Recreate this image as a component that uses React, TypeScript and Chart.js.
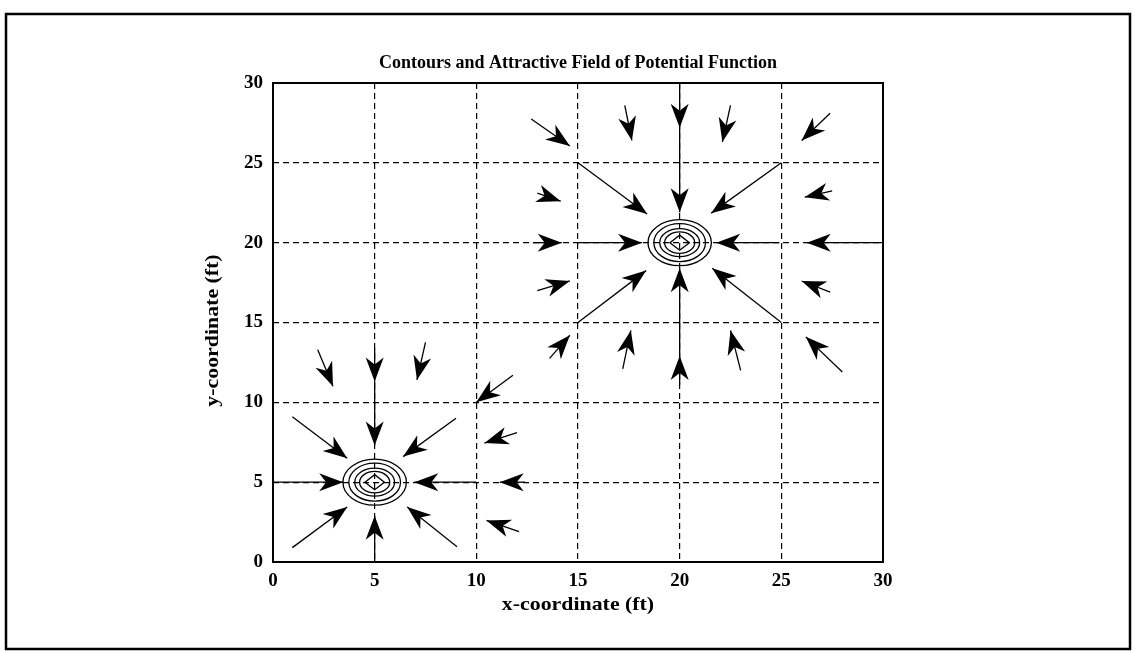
import React, { useEffect, useRef } from "react";
import { Chart, registerables } from "chart.js";

Chart.register(...registerables);

// ---- data ----
const tickValues = [0, 5, 10, 15, 20, 25, 30];
const chartTitle = "Contours and Attractive Field of Potential Function";
const xTitle = "x-coordinate (ft)";
const yTitle = "y-coordinate (ft)";

// goal points (contour centres)
const goalX = [5, 20];
const goalY = [5, 20];
// contour ring half-axes (data units)
const contourRx = [1.56, 1.27, 0.98, 0.74];
const contourRy = [1.44, 1.19, 0.875, 0.67];
const diamondRx = 0.48;
const diamondRy = 0.47;

// quiver arrows: tail -> tip (data units)
const arrowTailX = [
  12.7, 17.3, 20, 22.5, 27.4, 15, 20, 25, 13.0, 27.5, 12.8, 15, 30, 24.9, 13.0, 15, 20, 20, 25, 27.4, 13.6, 17.2, 23.0, 28.0, 11.8,
  2.2, 5, 5, 7.5, 0.95, 9.0, 12.0, 0, 10, 12.4, 0.95, 5, 9.05, 12.1,
];
const arrowTailY = [
  27.75, 28.6, 30, 28.6, 28.1, 25, 27.2, 25, 23.1, 23.25, 20, 20, 20, 20, 17.0, 15, 12.9, 11.1, 15, 16.9, 12.75, 12.1, 12.0, 11.9, 11.7,
  13.3, 13.4, 11.3, 13.75, 9.1, 9.0, 8.1, 5, 5, 5, 0.9, 0, 0.95, 1.9,
];
const arrowTipX = [
  14.6, 17.65, 20, 22.1, 26.0, 18.4, 20, 21.55, 14.15, 26.15, 14.2, 18.15, 26.25, 21.8, 14.6, 18.35, 20, 20, 21.6, 26.0, 14.6, 17.6, 22.5, 26.2, 10.0,
  2.95, 5, 5, 7.08, 3.65, 6.4, 10.4, 3.45, 6.95, 11.15, 3.65, 5, 6.6, 10.5,
];
const arrowTipY = [
  26.06, 26.4, 27.2, 26.3, 26.4, 21.8, 21.9, 21.85, 22.6, 22.85, 20, 20, 20, 20, 17.6, 18.25, 18.4, 12.9, 18.4, 17.6, 14.2, 14.5, 14.5, 14.1, 10.0,
  11.0, 11.3, 7.3, 11.4, 6.5, 6.6, 7.45, 5, 5, 5, 3.45, 2.9, 3.45, 2.6,
];

const SERIF = "'Liberation Serif', 'Times New Roman', serif";

const decorPlugin = {
  id: "decor",
  beforeDraw(chart: any) {
    const ctx = chart.ctx;
    ctx.save();
    ctx.fillStyle = "#fff";
    ctx.fillRect(0, 0, chart.width, chart.height);
    ctx.restore();
  },
  afterDatasetsDraw(chart: any) {
    const ctx = chart.ctx;
    const xs = chart.scales.x;
    const ys = chart.scales.y;
    const area = chart.chartArea;
    ctx.save();
    // arrow heads
    ctx.fillStyle = "#000";
    for (let i = 0; i < arrowTipX.length; i++) {
      const tx = xs.getPixelForValue(arrowTipX[i]);
      const ty = ys.getPixelForValue(arrowTipY[i]);
      const sx = xs.getPixelForValue(arrowTailX[i]);
      const sy = ys.getPixelForValue(arrowTailY[i]);
      const a = Math.atan2(ty - sy, tx - sx);
      const L = 24;
      const W = 9;
      const N = 17;
      const cos = Math.cos(a);
      const sin = Math.sin(a);
      const bx = tx - L * cos;
      const by = ty - L * sin;
      ctx.beginPath();
      ctx.moveTo(tx, ty);
      ctx.lineTo(bx - W * sin, by + W * cos);
      ctx.lineTo(tx - N * cos, ty - N * sin);
      ctx.lineTo(bx + W * sin, by - W * cos);
      ctx.closePath();
      ctx.fill();
    }
    // contours
    ctx.strokeStyle = "#000";
    ctx.lineWidth = 1.3;
    for (let g = 0; g < goalX.length; g++) {
      const cx = xs.getPixelForValue(goalX[g]);
      const cy = ys.getPixelForValue(goalY[g]);
      for (let r = 0; r < contourRx.length; r++) {
        const rx = Math.abs(xs.getPixelForValue(goalX[g] + contourRx[r]) - cx);
        const ry = Math.abs(ys.getPixelForValue(goalY[g] + contourRy[r]) - cy);
        ctx.beginPath();
        ctx.ellipse(cx, cy, rx, ry, 0, 0, Math.PI * 2);
        ctx.stroke();
      }
      const dx = Math.abs(xs.getPixelForValue(goalX[g] + diamondRx) - cx);
      const dy = Math.abs(ys.getPixelForValue(goalY[g] + diamondRy) - cy);
      ctx.beginPath();
      ctx.moveTo(cx - dx, cy);
      ctx.lineTo(cx, cy - dy);
      ctx.lineTo(cx + dx, cy);
      ctx.lineTo(cx, cy + dy);
      ctx.closePath();
      ctx.stroke();
    }
    // plot frame
    ctx.lineWidth = 2;
    ctx.strokeRect(area.left, area.top, area.right - area.left, area.bottom - area.top);
    ctx.restore();
  },
  afterDraw(chart: any) {
    const ctx = chart.ctx;
    const area = chart.chartArea;
    const cx = (area.left + area.right) / 2;
    ctx.save();
    // outer frame
    ctx.strokeStyle = "#000";
    ctx.lineWidth = 2.5;
    ctx.strokeRect(6, 14, 1124, 635);
    ctx.fillStyle = "#000";
    ctx.textAlign = "center";
    ctx.textBaseline = "alphabetic";
    ctx.font = `bold 18px ${SERIF}`;
    ctx.fillText(chartTitle, cx, 68);
    ctx.font = `bold 19px ${SERIF}`;
    ctx.save();
    ctx.translate(cx, 610);
    ctx.scale(1.15, 1);
    ctx.fillText(xTitle, 0, 0);
    ctx.restore();
    ctx.translate(218, (area.top + area.bottom) / 2 + 8);
    ctx.rotate(-Math.PI / 2);
    ctx.scale(1.15, 1);
    ctx.fillText(yTitle, 0, 0);
    ctx.restore();
  },
};

export default function App() {
  const ref = useRef<HTMLCanvasElement | null>(null);
  useEffect(() => {
    if (!ref.current) return;
    const datasets = arrowTailX.map((_, i) => ({
      data: [
        { x: arrowTailX[i], y: arrowTailY[i] },
        { x: arrowTipX[i], y: arrowTipY[i] },
      ],
      showLine: true,
      borderColor: "#000",
      borderWidth: 1.3,
      pointRadius: 0,
      pointHoverRadius: 0,
      fill: false,
    }));
    const tickFont = { family: SERIF, weight: "bold" as const, size: 19 };
    const chart = new Chart(ref.current, {
      type: "scatter",
      data: { datasets },
      options: {
        animation: false,
        responsive: false,
        maintainAspectRatio: false,
        events: [],
        layout: { padding: { left: 0, top: 83, right: 252, bottom: 0 } },
        plugins: { legend: { display: false }, tooltip: { enabled: false }, title: { display: false } },
        scales: {
          x: {
            type: "linear",
            min: 0,
            max: 30,
            afterBuildTicks: (s: any) => {
              s.ticks = tickValues.map((v) => ({ value: v }));
            },
            afterFit: (s: any) => {
              s.height = 91;
            },
            grid: { color: "#000", lineWidth: 1.2, drawTicks: false },
            border: { display: false, dash: [6, 4] },
            ticks: { color: "#000", font: tickFont, padding: 8, maxRotation: 0, autoSkip: false },
          },
          y: {
            type: "linear",
            min: 0,
            max: 30,
            afterBuildTicks: (s: any) => {
              s.ticks = tickValues.map((v) => ({ value: v }));
            },
            afterFit: (s: any) => {
              s.width = 273;
            },
            grid: { color: "#000", lineWidth: 1.2, drawTicks: false },
            border: { display: false, dash: [6, 4] },
            ticks: { color: "#000", font: tickFont, padding: 10, autoSkip: false },
          },
        },
      },
      plugins: [decorPlugin],
    });
    return () => chart.destroy();
  }, []);
  return (
    <div style={{ position: "absolute", left: 0, top: 0, width: 1135, height: 653, background: "#fff" }}>
      <canvas ref={ref} width={1135} height={653} style={{ display: "block" }} />
    </div>
  );
}
